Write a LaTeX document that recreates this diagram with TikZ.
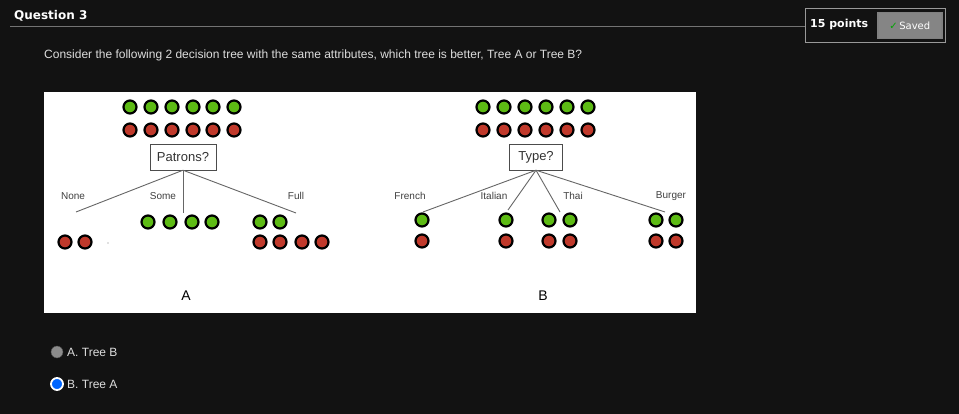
\documentclass[tikz,border=0pt]{standalone}
\usepackage{fontspec}
\setmainfont{Liberation Sans}
\newfontfamily\uifont{DejaVu Sans}
\definecolor{bg}{HTML}{121212}
\definecolor{gdot}{HTML}{5DBB14}
\definecolor{rdot}{HTML}{C0392B}
\definecolor{txt}{HTML}{DDDDDD}
\tikzset{
 gd/.style={circle,draw=black,line width=2.2pt,fill=gdot,minimum size=13pt,inner sep=0pt},
 rd/.style={circle,draw=black,line width=2.2pt,fill=rdot,minimum size=13pt,inner sep=0pt},
 lab/.style={font=\fontsize{10}{11}\selectfont,text=black!75,inner sep=0pt},
 qbox/.style={draw=black!70,fill=white,font=\fontsize{13}{14}\selectfont,text=black!80,inner sep=0pt,minimum height=26pt},
 edge/.style={draw=black!60,line width=0.9pt},
 ui/.style={text=txt,font=\fontsize{12}{14}\selectfont,inner sep=0pt,anchor=west}
}
\begin{document}
\begin{tikzpicture}[x=1pt,y=-1pt]
\fill[bg] (0,0) rectangle (959,414);
\useasboundingbox (0,0) rectangle (959,414);
\node[ui,font=\uifont\bfseries\fontsize{12}{14}\selectfont,text=white] (q) at (14,16) {Question 3};
\coordinate (l1) at (10,26); \coordinate (l2) at (805,26);
\draw[black!55,line width=0.6pt] (l1) -- (l2);
\node[draw=black!40,line width=0.8pt,minimum width=140pt,minimum height=34pt,anchor=north west,inner sep=0pt] (pb) at (805,8) {};
\node[ui,font=\uifont\bfseries\fontsize{11}{12}\selectfont,text=white] (pts) at (810,24) {15 points};
\node[draw=black!50,line width=1.5pt,fill=black!48,minimum width=64pt,minimum height=26pt,anchor=north west,inner sep=0pt,text=white!90,font=\uifont\fontsize{10}{11}\selectfont] (sv) at (877,12) {\textcolor{green!65!black}{\textbf{✓}}\,Saved};
\node[ui] (cq) at (44,55) {Consider the following 2 decision tree with the same attributes, which tree is better, Tree A or Tree B?};
\fill[white] (44,92) rectangle (696,313);
% Tree A
\foreach \x [count=\i] in {130,151,172,193,213,234}{
 \node[gd] (ag\i) at (\x,107) {}; \node[rd] (ar\i) at (\x,130) {};}
\node[qbox,minimum width=66pt] (pa) at (183,157) {Patrons?};
\coordinate (aN) at (76,212); \coordinate (aS) at (183,213); \coordinate (aF) at (296,213);
\draw[edge] (pa.south) -- (aN); \draw[edge] (pa.south) -- (aS); \draw[edge] (pa.south) -- (aF);
\node[lab] (ln) at (73,196) {None};
\node[lab] (ls) at (163,196) {Some};
\node[lab] (lf) at (296,196) {Full};
\foreach \x [count=\i] in {148,170,192,212}{\node[gd] (sg\i) at (\x,222) {};}
\foreach \x [count=\i] in {260,280}{\node[gd] (fg\i) at (\x,222) {};}
\foreach \x [count=\i] in {260,280,302,322}{\node[rd] (fr\i) at (\x,242) {};}
\foreach \x [count=\i] in {65,85}{\node[rd] (nr\i) at (\x,242) {};}
\fill[black!50] (108,243) circle (0.6pt);
\node[font=\fontsize{14}{15}\selectfont,inner sep=0pt] (tA) at (186,296) {A};
% Tree B
\foreach \x [count=\i] in {483,504,525,546,567,588}{
 \node[gd] (bg\i) at (\x,107) {}; \node[rd] (br\i) at (\x,130) {};}
\node[qbox,minimum width=53pt] (ty) at (536,157) {Type?};
\coordinate (bF) at (423,212); \coordinate (bI) at (508,210); \coordinate (bT) at (560,212); \coordinate (bB) at (665,212);
\foreach \c in {bF,bI,bT,bB}{\draw[edge] (ty.south) -- (\c);}
\node[lab] (lfr) at (410,196) {French};
\node[lab] (lit) at (494,196) {Italian};
\node[lab] (lth) at (573,196) {Thai};
\node[lab] (lbu) at (671,196) {Burger};
\foreach \x [count=\i] in {422,506,549,570,656,676}{
 \node[gd] (lg\i) at (\x,220) {}; \node[rd] (lr\i) at (\x,241) {};}
\node[font=\fontsize{14}{15}\selectfont,inner sep=0pt] (tB) at (543,296) {B};
% options
\node[circle,draw=black!70,fill=black!45,minimum size=12pt,inner sep=0pt] (ra) at (57,352) {};
\node[ui] (oa) at (67,352) {A. Tree B};
\node[circle,draw=white,line width=1.8pt,fill=blue!60!cyan,minimum size=12pt,inner sep=0pt] (rb) at (57,384) {};
\node[ui] (ob) at (67,384) {B. Tree A};
\end{tikzpicture}
\end{document}
